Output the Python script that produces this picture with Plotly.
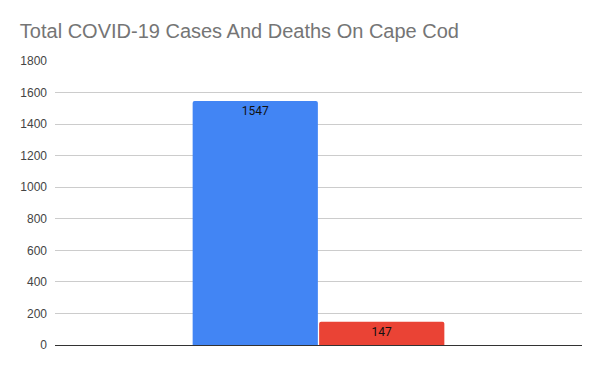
import plotly.graph_objects as go

categories = [""]
series_names = ["Cases", "Deaths"]
cases = [1547]
deaths = [147]
y_ticks = [0, 200, 400, 600, 800, 1000, 1200, 1400, 1600, 1800]

colors = {"Cases": "#4285F4", "Deaths": "#EA4335"}

fig = go.Figure()
for name, vals in zip(series_names, [cases, deaths]):
    fig.add_trace(go.Bar(
        x=categories, y=vals, name=name,
        marker=dict(color=colors[name], line=dict(width=0), cornerradius=2),
        text=[str(v) for v in vals],
        textposition="inside", insidetextanchor="end",
        textfont=dict(family="Roboto, Arial, sans-serif", size=12, color="#111111"),
        textangle=0,
        hoverinfo="y",
    ))

fig.update_layout(
    width=592, height=363,
    margin=dict(l=45, r=18, t=53, b=26),
    paper_bgcolor="white", plot_bgcolor="white",
    barmode="group", bargap=0.52, bargroupgap=0.01,
    showlegend=False,
    title=dict(text="Total COVID-19 Cases And Deaths On Cape Cod",
               font=dict(family="Arial, Liberation Sans, sans-serif", size=20, color="#757575"),
               x=0.02, xanchor="left", y=0.937, yanchor="middle"),
    xaxis=dict(showticklabels=False, showgrid=False, zeroline=False,
               showline=False, ticks=""),
    yaxis=dict(range=[0, 1800], tickvals=y_ticks,
               tickfont=dict(family="Arial, Liberation Sans, sans-serif", size=12, color="#444444"),
               showgrid=True, gridcolor="#cccccc", gridwidth=1,
               zeroline=True, zerolinecolor="#333333", zerolinewidth=1,
               showline=False, ticks="", ticklabelstandoff=7),
    uniformtext=dict(minsize=8, mode="show"),
)

fig.write_html("out.html")
